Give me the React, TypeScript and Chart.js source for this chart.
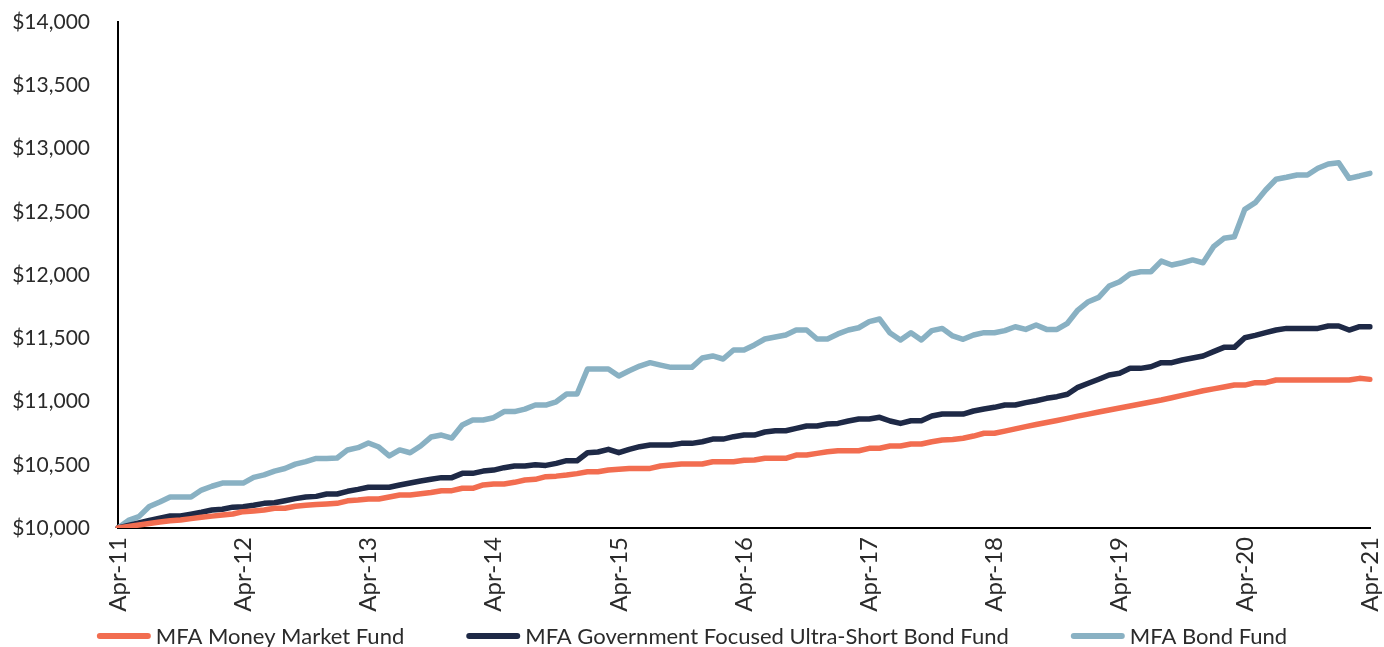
import React, { useEffect, useRef } from "react";
import { Chart, registerables } from "chart.js";

Chart.register(...registerables);

// Tick labels shown on the x axis (every 12 months)
const yearTickLabels = ["Apr-11", "Apr-12", "Apr-13", "Apr-14", "Apr-15", "Apr-16", "Apr-17", "Apr-18", "Apr-19", "Apr-20", "Apr-21"];
const monthNames = ["Apr", "May", "Jun", "Jul", "Aug", "Sep", "Oct", "Nov", "Dec", "Jan", "Feb", "Mar"];

// Series names
const seriesNames = ["MFA Money Market Fund", "MFA Government Focused Ultra-Short Bond Fund", "MFA Bond Fund"];

// Monthly growth of $10,000 (Apr-11 .. Apr-21)
const moneyMarket = [
  10000, 10012, 10024, 10036, 10048, 10058, 10063, 10074, 10085, 10094, 10103, 10111,
  10129, 10135, 10142, 10156, 10156, 10172, 10180, 10185, 10190, 10195, 10215, 10221,
  10229, 10229, 10245, 10261, 10261, 10270, 10280, 10295, 10295, 10314, 10314, 10340,
  10348, 10348, 10361, 10379, 10385, 10406, 10410, 10419, 10430, 10445, 10445, 10458,
  10464, 10471, 10471, 10471, 10490, 10498, 10506, 10506, 10506, 10524, 10524, 10524,
  10535, 10538, 10551, 10551, 10551, 10577, 10577, 10590, 10603, 10611, 10611, 10611,
  10630, 10630, 10648, 10648, 10664, 10664, 10682, 10695, 10700, 10709, 10727, 10749,
  10749, 10766, 10784, 10801, 10818, 10834, 10850, 10867, 10884, 10900, 10917, 10933,
  10949, 10964, 10980, 10996, 11012, 11030, 11048, 11066, 11085, 11100, 11115, 11130,
  11130, 11149, 11149, 11170, 11170, 11170, 11170, 11170, 11170, 11170, 11170, 11183,
  11175,
];

const govUltraShort = [
  10000, 10020, 10040, 10060, 10078, 10095, 10095, 10110, 10125, 10142, 10148, 10165,
  10168, 10180, 10195, 10200, 10216, 10232, 10245, 10250, 10269, 10269, 10290, 10305,
  10322, 10322, 10322, 10340, 10356, 10372, 10385, 10398, 10398, 10432, 10432, 10450,
  10458, 10477, 10490, 10490, 10500, 10495, 10511, 10532, 10532, 10595, 10601, 10622,
  10595, 10622, 10643, 10656, 10656, 10656, 10669, 10669, 10682, 10703, 10703, 10722,
  10735, 10735, 10759, 10769, 10769, 10788, 10806, 10806, 10822, 10827, 10846, 10862,
  10862, 10875, 10846, 10827, 10848, 10848, 10885, 10901, 10901, 10901, 10925, 10941,
  10954, 10972, 10972, 10991, 11006, 11025, 11038, 11057, 11112, 11144, 11176, 11210,
  11223, 11262, 11262, 11275, 11307, 11307, 11328, 11344, 11360, 11394, 11428, 11428,
  11504, 11523, 11544, 11565, 11578, 11578, 11578, 11578, 11597, 11597, 11565, 11591,
  11591,
];

const bondFund = [
  10000, 10060, 10090, 10170, 10205, 10245, 10245, 10245, 10300, 10330, 10355, 10355,
  10355, 10400, 10420, 10450, 10470, 10505, 10525, 10550, 10550, 10553, 10617, 10635,
  10672, 10640, 10570, 10617, 10595, 10648, 10719, 10735, 10711, 10814, 10854, 10854,
  10872, 10920, 10920, 10940, 10972, 10972, 10998, 11059, 11059, 11257, 11257, 11257,
  11202, 11243, 11280, 11307, 11288, 11270, 11270, 11270, 11344, 11360, 11336, 11407,
  11407, 11447, 11494, 11510, 11526, 11565, 11565, 11494, 11494, 11534, 11565, 11583,
  11631, 11652, 11541, 11486, 11544, 11486, 11560, 11578, 11518, 11492, 11526, 11544,
  11544, 11560, 11591, 11570, 11605, 11570, 11570, 11618, 11723, 11789, 11823, 11913,
  11947, 12008, 12026, 12026, 12110, 12079, 12097, 12119, 12097, 12224, 12290, 12303,
  12519, 12572, 12672, 12757, 12773, 12791, 12791, 12844, 12878, 12888, 12764, 12783,
  12804,
];

const seriesColors = ["#F26D50", "#1E2946", "#89B1C3"];
const FONT = "Lato";
const TEXT_COLOR = "#2b2b2b";

function buildMonthLabels(): string[] {
  const out: string[] = [];
  for (let i = 0; i < moneyMarket.length; i++) {
    const year = 11 + Math.floor((i + 3) / 12);
    out.push(monthNames[i % 12] + "-" + String(year).padStart(2, "0"));
  }
  return out;
}

const bottomLegend = {
  id: "bottomLegend",
  afterDraw(chart: any) {
    const ctx = chart.ctx as CanvasRenderingContext2D;
    ctx.save();
    ctx.font = `22px ${FONT}`;
    const boxW = 54;
    const boxH = 6;
    const gapBox = 5;
    const gapItem = 62;
    const widths = seriesNames.map((n) => ctx.measureText(n).width);
    const total = widths.reduce((a, w) => a + boxW + gapBox + w, 0) + gapItem * (seriesNames.length - 1);
    let x = (chart.width - total) / 2;
    const y = 636;
    ctx.textBaseline = "middle";
    ctx.textAlign = "left";
    seriesNames.forEach((name, k) => {
      ctx.strokeStyle = seriesColors[k];
      ctx.lineWidth = boxH;
      ctx.lineCap = "round";
      ctx.beginPath();
      ctx.moveTo(x + boxH / 2, y);
      ctx.lineTo(x + boxW - boxH / 2, y);
      ctx.stroke();
      ctx.fillStyle = TEXT_COLOR;
      ctx.fillText(name, x + boxW + gapBox, y + 1);
      x += boxW + gapBox + widths[k] + gapItem;
    });
    ctx.restore();
  },
};

export default function App() {
  const canvasRef = useRef<HTMLCanvasElement | null>(null);

  useEffect(() => {
    document.body.style.margin = "0";
    const canvas = canvasRef.current;
    if (!canvas) return;
    const labels = buildMonthLabels();
    const values = [moneyMarket, govUltraShort, bondFund];
    const chart = new Chart(canvas, {
      type: "line",
      data: {
        labels,
        datasets: values.map((v, k) => ({
          label: seriesNames[k],
          data: v,
          borderColor: seriesColors[k],
          backgroundColor: seriesColors[k],
          borderWidth: 5.5,
          pointRadius: 0,
          tension: 0,
          borderCapStyle: "round" as const,
          borderJoinStyle: "round" as const,
        })),
      },
      plugins: [bottomLegend],
      options: {
        animation: false,
        responsive: false,
        maintainAspectRatio: false,
        layout: { padding: { left: 12, right: 14, top: 22, bottom: 33 } },
        plugins: {
          tooltip: { enabled: false },
          legend: { display: false },
        },
        scales: {
          x: {
            type: "category",
            offset: false,
            grid: { display: false, drawTicks: false },
            border: { display: true, color: "#000", width: 2 },
            ticks: {
              autoSkip: false,
              minRotation: 90,
              maxRotation: 90,
              padding: 9,
              color: TEXT_COLOR,
              font: { family: FONT, size: 24 },
              callback: (_v: any, idx: number) => (idx % 12 === 0 ? yearTickLabels[idx / 12] : ""),
            },
            afterFit: (scale: any) => {
              scale.height = 86;
              scale.paddingLeft = 0;
              scale.paddingRight = 0;
            },
          },
          y: {
            min: 10000,
            max: 14000,
            grid: { display: false, drawTicks: false },
            border: { display: true, color: "#000", width: 2 },
            ticks: {
              stepSize: 500,
              padding: 28,
              color: TEXT_COLOR,
              font: { family: FONT, size: 21 },
              callback: (v: any) => "$" + Number(v).toLocaleString("en-US"),
            },
            afterFit: (scale: any) => {
              scale.width = 106;
              scale.paddingTop = 0;
              scale.paddingBottom = 0;
            },
          },
        },
      },
    });
    return () => chart.destroy();
  }, []);

  return (
    <div style={{ width: 1384, height: 647 }}>
      <canvas ref={canvasRef} width={1384} height={647} style={{ display: "block" }} />
    </div>
  );
}
